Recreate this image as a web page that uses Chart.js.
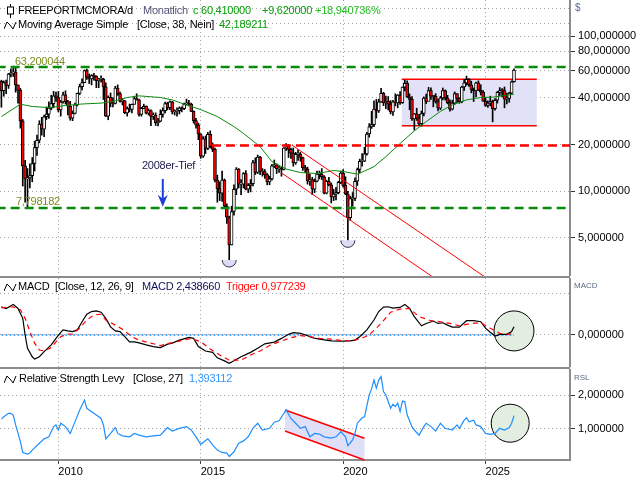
<!DOCTYPE html>
<html>
<head>
<meta charset="utf-8">
<script src="https://cdn.jsdelivr.net/npm/chart.js@4.4.1/dist/chart.umd.min.js"></script>
<style>
body { margin: 0; background: #fff; width: 640px; height: 480px; overflow: hidden; position: relative;
       font-family: "Liberation Sans", Arial, sans-serif; font-size: 11px; }
canvas { position: absolute; left: 0; }
.t { position: absolute; white-space: nowrap; font-size: 11px; line-height: 13px; color: #000; z-index: 2; letter-spacing: -0.25px; }
.s { position: absolute; white-space: nowrap; font-size: 8px; line-height: 10px; color: #5a6a8a; z-index: 2; }
.sep { position: absolute; left: 0; width: 570px; height: 2px; background: #8c8c8c; z-index: 3; }
svg { position: absolute; z-index: 2; }
</style>
</head>
<body>
<canvas id="price" width="640" height="276" style="top:0"></canvas>
<canvas id="macd" width="640" height="89" style="top:278px"></canvas>
<canvas id="rsl" width="640" height="111" style="top:369px"></canvas>
<div class="sep" style="top:276px"></div>
<div class="sep" style="top:367px"></div>

<svg style="left:6px;top:4px" width="9" height="14"><line x1="4.5" y1="0" x2="4.5" y2="14" stroke="#000"/><rect x="1.5" y="3" width="6" height="7" fill="#fff" stroke="#000"/></svg>
<span class="t" style="left:18px;top:4px">FREEPORTMCMORA/d</span>
<span class="t" style="left:143px;top:4px;color:#55557a">Monatlich</span>
<span class="t" style="left:193px;top:4px;color:#00a000">c 60,410000</span>
<span class="t" style="left:262px;top:4px;color:#00a000">+9,620000</span>
<span class="t" style="left:315px;top:4px;color:#22c022">+18,940736%</span>

<svg style="left:4px;top:20px" width="13" height="10"><polyline points="0,9 3,2 6,5 9,9 12,2" fill="none" stroke="#000"/></svg>
<span class="t" style="left:18px;top:18px">Moving Average Simple</span>
<span class="t" style="left:137px;top:18px">[Close, 38, Nein]</span>
<span class="t" style="left:219px;top:18px;color:#00a000">42,189211</span>

<span class="t" style="left:15px;top:55px;color:#7b8a1e">63,200044</span>
<span class="t" style="left:16px;top:195px;color:#7b8a1e">7,798182</span>
<span class="t" style="left:142px;top:159px;color:#202050">2008er-Tief</span>

<svg style="left:4px;top:282px" width="13" height="10"><polyline points="0,9 3,2 6,5 9,9 12,2" fill="none" stroke="#000"/></svg>
<span class="t" style="left:18px;top:280px">MACD</span>
<span class="t" style="left:55px;top:280px">[Close, 12, 26, 9]</span>
<span class="t" style="left:142px;top:280px;color:#10105a">MACD 2,438660</span>
<span class="t" style="left:226px;top:280px;color:#ff1010">Trigger 0,977239</span>

<svg style="left:4px;top:374px" width="13" height="10"><polyline points="0,9 3,2 6,5 9,9 12,2" fill="none" stroke="#000"/></svg>
<span class="t" style="left:19px;top:372px">Relative Strength Levy</span>
<span class="t" style="left:133px;top:372px">[Close, 27]</span>
<span class="t" style="left:189px;top:372px;color:#3399ff">1,393112</span>

<span class="s" style="left:575px;top:3px;font-size:10px">$</span>
<span class="s" style="left:574px;top:281px">MACD</span>
<span class="s" style="left:574px;top:373px">RSL</span>

<script>
'use strict'

/*
 * Monthly candles, index 0 = Jan 2008 ... index 216 = Jan 2026
 */
const firstOpen = 51.2;
const closes = [
    44.5, 50.2, 48.1, 56.9, 57.9, 58.6, 48.4, 44.7, 28.4, 14.6, 12.0, 12.2,
    12.6, 15.1, 19.1, 21.3, 27.1, 25.1, 30.2, 31.4, 34.3, 36.7, 41.2, 40.1,
    33.4, 37.6, 41.8, 37.8, 35.4, 29.6, 31.8, 36.1, 42.7, 47.3, 50.1, 60.0,
    54.4, 52.9, 55.6, 55.0, 51.6, 52.9, 52.9, 47.1, 30.5, 40.3, 36.9, 36.8,
    46.2, 42.6, 38.0, 38.3, 32.0, 34.1, 33.7, 36.3, 39.6, 38.9, 31.3, 34.2,
    35.3, 31.9, 33.1, 30.4, 31.0, 27.6, 28.3, 31.3, 33.1, 36.8, 34.6, 37.7,
    32.4, 32.7, 33.1, 34.4, 34.1, 36.5, 37.2, 36.4, 32.7, 28.5, 26.8, 23.4,
    16.8, 21.8, 18.9, 23.3, 19.4, 18.6, 11.8, 10.4, 9.7, 11.8, 8.0, 6.8,
    4.5, 7.4, 10.3, 13.9, 11.1, 11.1, 13.0, 10.3, 10.9, 11.2, 15.3, 13.2,
    16.6, 13.4, 13.4, 12.8, 11.5, 12.0, 14.6, 14.8, 14.0, 14.0, 13.8, 19.0,
    19.5, 18.6, 17.6, 15.2, 17.3, 17.3, 16.5, 14.2, 13.9, 11.6, 11.9, 10.3,
    11.6, 12.9, 12.9, 12.4, 9.7, 11.6, 11.0, 9.2, 9.6, 9.8, 11.4, 13.1,
    10.9, 9.6, 6.75, 8.95, 9.0, 11.6, 13.8, 15.6, 15.6, 17.4, 23.4, 26.0,
    26.9, 33.9, 32.9, 37.7, 42.7, 37.1, 38.1, 36.4, 32.5, 37.7, 37.1, 41.7,
    37.2, 46.9, 49.7, 40.5, 39.1, 29.3, 31.6, 29.6, 27.3, 31.7, 39.9, 38.0,
    44.6, 41.0, 40.9, 37.9, 34.3, 40.0, 44.6, 39.9, 37.3, 33.8, 37.0, 42.6,
    39.7, 37.8, 47.0, 49.9, 52.7, 48.6, 45.4, 44.4, 49.9, 44.8, 43.5, 38.1,
    35.8, 37.0, 37.9, 34.0, 38.6, 43.4, 44.6, 44.5, 39.2, 39.6, 42.9, 50.79,
    60.41
];
const highs = [
    52.0, 51.5, 52.0, 57.5, 61.5, 63.6, 63.2, 48.5, 46.0, 29.0, 15.8, 14.0,
    15.0, 16.5, 21.0, 23.0, 28.5, 30.0, 31.0, 35.0, 37.7, 41.6, 44.0, 43.6,
    44.0, 38.5, 43.5, 44.4, 38.5, 38.0, 33.0, 37.0, 43.0, 49.0, 53.0, 60.5,
    61.4, 57.0, 56.5, 57.5, 55.5, 53.5, 55.5, 53.5, 50.0, 41.2, 43.0, 40.0,
    47.5, 48.5, 43.5, 39.5, 38.5, 35.0, 36.5, 36.5, 41.0, 42.5, 39.3, 34.8,
    36.4, 35.5, 34.0, 33.5, 32.0, 32.0, 29.5, 33.5, 34.5, 37.5, 37.5, 38.2,
    38.0, 33.5, 34.5, 35.0, 35.0, 37.0, 39.3, 38.5, 37.0, 33.0, 29.5, 27.5,
    23.5, 22.5, 22.7, 24.0, 24.5, 20.5, 19.0, 12.7, 11.5, 13.5, 12.0, 8.3,
    6.9, 8.0, 11.0, 14.2, 14.0, 11.9, 13.2, 13.6, 11.2, 11.9, 15.8, 16.4,
    17.1, 16.8, 14.0, 13.8, 13.0, 12.5, 14.9, 15.9, 15.0, 14.6, 14.3, 19.1,
    20.3, 20.0, 19.0, 19.0, 17.8, 18.5, 17.8, 16.6, 14.7, 14.3, 12.9, 12.3,
    12.0, 13.5, 13.5, 14.0, 12.6, 11.8, 12.3, 11.3, 10.3, 10.6, 11.6, 13.5,
    13.8, 12.4, 10.0, 9.3, 9.8, 12.2, 14.1, 16.1, 17.5, 19.2, 24.0, 27.3,
    32.8, 38.2, 39.1, 39.2, 46.1, 43.4, 41.0, 40.8, 38.4, 38.5, 42.5, 42.0,
    43.9, 47.0, 52.0, 51.5, 42.4, 40.8, 31.7, 34.3, 31.3, 32.9, 40.6, 42.3,
    46.7, 46.5, 41.3, 42.6, 39.4, 40.9, 46.3, 45.0, 41.5, 38.9, 38.6, 43.7,
    42.4, 40.1, 47.5, 52.6, 55.2, 53.3, 51.2, 46.3, 50.5, 51.5, 48.6, 44.5,
    40.4, 38.3, 41.0, 38.7, 39.5, 44.0, 46.6, 45.9, 47.0, 43.0, 43.5, 51.5,
    61.5
];
const lows = [
    34.8, 41.0, 42.5, 46.0, 54.5, 55.0, 43.5, 37.0, 25.5, 10.8, 8.5, 7.8,
    10.5, 11.5, 13.5, 17.0, 20.5, 23.0, 22.5, 29.0, 29.5, 33.5, 34.5, 38.0,
    32.5, 30.5, 37.0, 36.5, 31.0, 28.7, 28.5, 31.5, 35.5, 42.0, 45.0, 50.0,
    52.5, 49.5, 48.5, 52.0, 46.5, 46.5, 50.5, 39.0, 30.3, 28.9, 35.0, 35.0,
    36.5, 41.5, 37.5, 36.0, 31.6, 30.5, 32.5, 32.0, 36.5, 38.6, 30.5, 30.5,
    34.0, 31.5, 31.0, 26.5, 29.0, 26.5, 26.4, 28.0, 30.0, 32.0, 33.5, 33.5,
    31.5, 31.0, 30.5, 31.5, 32.5, 33.5, 36.0, 35.5, 32.6, 27.5, 25.5, 21.5,
    16.3, 16.5, 17.5, 18.5, 19.0, 18.0, 11.5, 8.5, 8.7, 8.6, 7.8, 6.2,
    3.6, 4.5, 7.0, 9.5, 10.5, 9.5, 10.5, 10.2, 9.8, 9.9, 10.8, 12.8,
    13.0, 12.8, 12.5, 12.1, 11.0, 11.0, 11.8, 14.2, 13.0, 13.2, 12.5, 13.7,
    18.3, 16.5, 16.3, 14.5, 14.9, 15.8, 15.6, 13.6, 13.2, 11.1, 10.9, 9.5,
    9.8, 11.5, 12.0, 11.9, 9.6, 9.6, 10.8, 8.4, 8.7, 8.8, 9.6, 11.2,
    10.6, 9.5, 4.82, 6.5, 8.0, 8.7, 10.9, 13.1, 14.5, 15.5, 17.1, 22.3,
    25.4, 26.1, 29.6, 32.2, 37.4, 35.6, 34.1, 33.4, 31.5, 30.8, 35.5, 34.5,
    36.3, 36.8, 44.3, 40.2, 33.5, 28.6, 24.8, 28.6, 26.6, 26.3, 30.6, 36.7,
    38.6, 39.1, 35.0, 37.0, 32.9, 33.6, 38.8, 38.7, 36.6, 32.8, 33.4, 36.3,
    37.4, 36.9, 37.2, 44.6, 48.2, 47.4, 43.1, 37.9, 40.6, 44.6, 41.7, 37.9,
    35.2, 34.7, 35.5, 28.0, 33.3, 37.0, 41.4, 40.5, 34.5, 36.5, 37.5, 42.5,
    50.5
];

// Moving Average Simple (38)
const maMonths = [0, 8, 13, 20, 27, 34, 42, 47, 53, 58, 67, 72, 78, 84, 91, 98, 102, 109, 114, 120,
    126, 133, 140, 144, 150, 154, 157, 162, 168, 174, 179, 185, 190, 196, 202, 207, 216];
const maValues = [30.3, 36.4, 35.2, 34.6, 35.7, 36.5, 37.0, 37.9, 40.2, 41.2, 40.2, 38.8, 36.0, 33.6, 30.3, 26.1, 23.6, 19.4, 15.5, 13.9,
    13.2, 13.0, 13.6, 13.4, 12.9, 13.7, 14.4, 16.7, 20.3, 24.5, 28.1, 32.7, 36.0, 38.8, 40.2, 40.4, 42.2];

// MACD (12, 26, 9)
const macdMonths = [0, 2, 5, 7, 9, 10, 11, 13, 14, 16, 18, 21, 23, 25, 26, 28, 30, 32, 34, 36, 38, 40, 42, 44, 46, 48, 50,
    52, 54, 56, 58, 61, 64, 67, 70, 72, 75, 79, 81, 83, 86, 89, 91, 94, 96, 98, 101, 105, 108, 111, 115, 118,
    121, 123, 126, 129, 131, 134, 139, 143, 147, 149, 151, 154, 157, 159, 161, 163, 165, 168, 170, 172, 174,
    177, 179, 182, 184, 186, 188, 190, 193, 196, 199, 202, 204, 206, 208, 210, 213, 215, 216];
const macdValues = [8.3, 7.8, 9.0, 7.8, 4.9, 0, -3.9, -6.4, -7.1, -6.4, -4.9, -2.9, -1.0, 0.8, 1.5, 1.2, 1.0, 1.5, 3.9, 6.1, 6.9, 7.1, 6.7, 4.9, 2.4, 1.2, 1.0,
    -0.5, -2.0, -2.0, -2.3, -2.9, -3.4, -3.7, -2.7, -2.4, -1.5, -0.7, -1.0, -3.4, -4.7, -5.1, -6.7, -7.6, -8.3, -7.6, -6.4, -5.1, -3.9, -2.6, -2.1, -1.0,
    0.2, 0.7, 0.5, -0.2, -0.8, -1.2, -1.7, -1.8, -1.7, -1.5, -0.5, 1.5, 4.4, 6.9, 8.2, 8.3, 7.9, 8.1, 9.0, 7.8, 5.4,
    2.7, 3.4, 4.1, 3.4, 3.6, 2.9, 2.3, 2.3, 4.2, 4.2, 3.9, 2.0, 0.8, -0.3, 0.2, 0.2, 1.0, 2.44];
const triggerMonths = [0, 5, 8, 10, 12, 14, 16, 18, 21, 23, 25, 28, 30, 33, 36, 39, 42, 44, 48, 51, 55, 58, 63, 67, 71, 75,
    80, 84, 88, 92, 96, 101, 105, 109, 113, 117, 122, 126, 130, 134, 139, 143, 147, 151, 155, 160, 164, 168,
    172, 176, 181, 185, 189, 193, 198, 202, 206, 210, 214, 216];
const triggerValues = [8.0, 8.3, 7.4, 4.9, 1.0, -2.4, -4.4, -4.7, -3.7, -2.0, -0.5, 0.3, 0.3, 2.0, 4.4, 5.9, 6.1, 4.4, 2.9, 1.7, -0.5, -1.5, -2.4, -3.1, -2.4, -1.8,
    -1.0, -2.0, -4.1, -5.9, -7.4, -7.4, -5.9, -4.7, -3.1, -2.0, -0.8, -0.2, -0.5, -1.0, -1.2, -1.6, -1.7, -1.2, 0, 3.4, 6.7, 7.6,
    7.8, 5.4, 4.2, 3.9, 3.4, 2.7, 3.4, 3.6, 2.0, 0.5, 0.2, 0.98];

// Relative Strength Levy (27)
const rslMonths = [0, 1, 3, 4, 5, 6, 8, 9, 11, 12, 13, 16, 18, 20, 22, 23, 24, 25, 27, 29, 31, 33, 35, 36, 38, 40, 42, 43, 44,
    46, 48, 49, 51, 54, 56, 58, 61, 64, 67, 69, 70, 72, 75, 78, 80, 82, 84, 87, 89, 91, 93, 95, 96, 98, 100, 102,
    104, 106, 108, 110, 113, 115, 117, 120, 122, 124, 126, 128, 130, 132, 134, 136, 139, 141, 143, 145, 146, 148,
    149, 150, 152, 153, 155, 156, 157, 158, 159, 160, 161, 162, 164, 165, 166, 167, 168, 169, 170, 171, 173, 174,
    176, 178, 179, 181, 183, 185, 187, 190, 192, 193, 195, 196, 197, 199, 200, 202, 204, 206, 208, 210, 212, 214,
    215, 216];
const rslValues = [1.29, 1.36, 1.46, 1.46, 1.41, 1.12, 0.63, 0.31, 0.26, 0.29, 0.38, 0.58, 0.71, 0.77, 1.07, 1.12, 0.97, 1.17, 1.07, 0.87, 1.21, 1.56, 1.85, 1.61, 1.51, 1.41, 1.31, 1.12, 0.71,
    0.87, 1.04, 0.87, 0.80, 0.77, 0.87, 0.82, 0.77, 0.80, 0.82, 0.97, 1.04, 0.94, 1.02, 1.07, 0.97, 0.77, 0.55, 0.71, 0.53, 0.38, 0.31, 0.29, 0.19, 0.33, 0.58, 0.65,
    0.77, 1.02, 1.17, 0.97, 1.02, 1.20, 1.24, 1.56, 1.31, 1.17, 1.02, 1.07, 0.77, 0.87, 0.85, 0.77, 0.73, 0.77, 0.92, 0.77, 0.51, 0.68,
    0.87, 1.17, 1.33, 1.36, 2.00, 2.18, 2.44, 2.20, 2.44, 2.54, 2.10, 2.00, 1.61, 1.73, 1.66, 1.76, 1.51, 1.82, 1.80, 1.41, 1.07, 0.97,
    0.82, 1.07, 1.17, 1.07, 0.94, 1.17, 1.02, 0.97, 1.12, 1.02, 1.26, 1.33, 1.21, 1.26, 1.12, 1.07, 0.87, 0.84, 0.87, 1.02, 0.97, 1.04,
    1.17, 1.393];

// axes
const yearTicks = [24, 84, 144, 204];
const yearLabels = ['2010', '2015', '2020', '2025'];
const priceGrid = [5, 10, 20, 40, 60, 80, 100, 120, 150];
const priceLabels = [5, 10, 20, 40, 60, 80, 100];
const macdGrid = [0, 12.3];
const macdLabels = [0];
const rslGrid = [1, 2];
const rslLabels = [1, 2];

// drawn marks, in data units (month index, value)
const highLine = 63.200044;
const lowLine = 7.798182;
const resistLine = [88.7, 19.7];
const channelUpper = [[122.5, 19.8], [205.9, 2.66]];
const channelLower = [[117.8, 13.2], [184.8, 2.6]];
const rangeBox = [168.7, 225.6, 26.4, 52.8];
const lowMarks = [96, 146];
const arrowMark = [68, 12.0, 7.95];
const macdCircle = [216, 1.2];
const rslChannel = [[119.5, 1.56], [153, 0.73], [153, 0.09], [119.5, 0.94]];
const rslCircle = [214.4, 1.17];

const F = '"Liberation Sans", Arial, sans-serif';
const xMin = -0.59, xMax = 239.6;

function fmt(v) {
    return v.toFixed(6).replace('.', ',');
}

function noPad(s) {
    s.paddingTop = 0;
    s.paddingBottom = 0;
    s.paddingLeft = 0;
    s.paddingRight = 0;
}

function xAxis(showLabels) {
    return {
        type: 'linear', min: xMin, max: xMax, offset: false,
        afterBuildTicks: s => { s.ticks = yearTicks.map(v => ({value: v})); },
        afterFit: s => { s.height = showLabels ? 20 : 0; noPad(s); },
        ticks: {
            display: showLabels, autoSkip: false, maxRotation: 0, align: 'start', padding: 1,
            color: '#000', font: {family: F, size: 11},
            callback: v => yearLabels[yearTicks.indexOf(v)]
        },
        grid: {color: '#a4a4a4', offset: false, drawTicks: showLabels, tickLength: 4, tickColor: '#444', tickBorderDash: []},
        border: {display: showLabels, color: '#8c8c8c', width: 2, dash: [1, 3]}
    };
}

function yAxis(type, min, max, grid, labeled) {
    return {
        type: type, position: 'right', min: min, max: max,
        afterBuildTicks: s => { s.ticks = grid.map(v => ({value: v})); },
        afterFit: s => { s.width = 70; noPad(s); },
        ticks: {
            autoSkip: false, padding: 3, color: '#000', font: {family: F, size: 11},
            callback: v => labeled.includes(v) ? fmt(v) : ''
        },
        grid: {
            color: '#a4a4a4', tickLength: 5, tickWidth: 1, tickBorderDash: [],
            tickColor: c => (c.tick && labeled.includes(c.tick.value)) ? '#333' : 'rgba(0,0,0,0)'
        },
        border: {display: true, color: '#8c8c8c', width: 2, dash: [1, 3]}
    };
}

function line(points, color, width, dash) {
    return {
        type: 'line', data: points.map(p => ({x: p[0], y: p[1]})),
        borderColor: color, borderWidth: width, borderDash: dash || [],
        pointRadius: 0, tension: 0, fill: false
    };
}

const base = {
    responsive: false, animation: false, devicePixelRatio: 1, events: [],
    layout: {padding: 0, autoPadding: false},
    plugins: {legend: {display: false}, tooltip: {enabled: false}}
};

/**
 * Price pane
 */

const opens = closes.map((c, i) => i === 0 ? firstOpen : closes[i - 1]);
const months = closes.map((c, i) => i);

const pricePlugin = {
    id: 'priceMarks',
    beforeDatasetsDraw(chart) {
        const {ctx, scales: {x, y}} = chart;
        const x1 = x.getPixelForValue(rangeBox[0]), x2 = x.getPixelForValue(rangeBox[1]);
        const yb = y.getPixelForValue(rangeBox[2]), yt = y.getPixelForValue(rangeBox[3]);
        ctx.save();
        ctx.fillStyle = '#e1e1f7';
        ctx.fillRect(x1, yt, x2 - x1, yb - yt);
        ctx.strokeStyle = '#ff0000';
        ctx.lineWidth = 1.5;
        ctx.beginPath();
        ctx.moveTo(x1, yt); ctx.lineTo(x2, yt);
        ctx.moveTo(x1, yb); ctx.lineTo(x2, yb);
        ctx.stroke();
        ctx.restore();
    },
    afterDatasetsDraw(chart) {
        const {ctx, scales: {x, y}} = chart;
        ctx.save();
        lowMarks.forEach(m => {
            const cx = x.getPixelForValue(m), cy = y.getPixelForValue(lows[m]);
            ctx.beginPath();
            ctx.arc(cx, cy, 7, 0, Math.PI);
            ctx.fillStyle = '#dcdcf4';
            ctx.fill();
            ctx.strokeStyle = '#30304a';
            ctx.lineWidth = 1;
            ctx.stroke();
        });
        const ax = x.getPixelForValue(arrowMark[0]);
        const top = y.getPixelForValue(arrowMark[1]), tip = y.getPixelForValue(arrowMark[2]);
        ctx.strokeStyle = '#1c3fd6';
        ctx.fillStyle = '#1c3fd6';
        ctx.lineWidth = 2;
        ctx.beginPath();
        ctx.moveTo(ax, top); ctx.lineTo(ax, tip - 7);
        ctx.stroke();
        ctx.beginPath();
        ctx.moveTo(ax, tip);
        ctx.lineTo(ax - 5, tip - 12);
        ctx.lineTo(ax, tip - 8);
        ctx.lineTo(ax + 5, tip - 12);
        ctx.closePath();
        ctx.fill();
        ctx.restore();
    }
};

new Chart(document.getElementById('price'), {
    type: 'bar',
    data: {
        datasets: [
            line([[-2, highLine], [242, highLine]], '#0a8a0a', 2.5, [9, 5]),
            line([[-2, lowLine], [242, lowLine]], '#0a8a0a', 2.5, [9, 5]),
            line([resistLine, [242, resistLine[1]]], '#ff0000', 2.5, [9, 5]),
            line(channelUpper, '#ff0000', 1),
            line(channelLower, '#ff0000', 1),
            line(maMonths.map((m, i) => [m, maValues[i]]), '#0a8a0a', 1),
            {
                type: 'bar',
                data: months.map(i => ({x: i, y: [opens[i], closes[i]]})),
                backgroundColor: months.map(i => closes[i] < opens[i] ? '#ff0000' : '#ffffff'),
                borderColor: '#000', borderWidth: 1, borderSkipped: false,
                barThickness: 3, grouped: false, minBarLength: 1
            },
            {
                type: 'bar',
                data: months.map(i => ({x: i, y: [lows[i], highs[i]]})),
                backgroundColor: '#000', barThickness: 1, grouped: false
            }
        ]
    },
    options: Object.assign({}, base, {
        scales: {x: xAxis(false), y: yAxis('logarithmic', 2.84, 171, priceGrid, priceLabels)}
    }),
    plugins: [pricePlugin]
});

/**
 * MACD pane
 */

const macdPlugin = {
    id: 'macdMarks',
    beforeDatasetsDraw(chart) {
        const {ctx, scales: {x, y}} = chart;
        ctx.save();
        ctx.beginPath();
        ctx.arc(x.getPixelForValue(macdCircle[0]), y.getPixelForValue(macdCircle[1]), 20, 0, Math.PI * 2);
        ctx.fillStyle = '#e2eedf';
        ctx.fill();
        ctx.strokeStyle = '#000';
        ctx.lineWidth = 1;
        ctx.stroke();
        ctx.restore();
    }
};

new Chart(document.getElementById('macd'), {
    type: 'line',
    data: {
        datasets: [
            line(triggerMonths.map((m, i) => [m, triggerValues[i]]), '#ff0000', 1.2, [5, 4]),
            line(macdMonths.map((m, i) => [m, macdValues[i]]), '#000000', 1.2),
            line([[0, 0], [216, 0]], '#1e90ff', 1.5, [2, 2])
        ]
    },
    options: Object.assign({}, base, {
        scales: {x: xAxis(false), y: yAxis('linear', -9.41, 16.76, macdGrid, macdLabels)}
    }),
    plugins: [macdPlugin]
});

/**
 * RSL pane
 */

const rslPlugin = {
    id: 'rslMarks',
    beforeDatasetsDraw(chart) {
        const {ctx, scales: {x, y}} = chart;
        const p = rslChannel.map(q => [x.getPixelForValue(q[0]), y.getPixelForValue(q[1])]);
        ctx.save();
        ctx.beginPath();
        ctx.moveTo(p[0][0], p[0][1]);
        p.slice(1).forEach(q => ctx.lineTo(q[0], q[1]));
        ctx.closePath();
        ctx.fillStyle = '#dfdff8';
        ctx.fill();
        ctx.strokeStyle = '#ff0000';
        ctx.lineWidth = 1.5;
        ctx.beginPath();
        ctx.moveTo(p[0][0], p[0][1]); ctx.lineTo(p[1][0], p[1][1]);
        ctx.moveTo(p[3][0], p[3][1]); ctx.lineTo(p[2][0], p[2][1]);
        ctx.stroke();
        ctx.beginPath();
        ctx.arc(x.getPixelForValue(rslCircle[0]), y.getPixelForValue(rslCircle[1]), 19, 0, Math.PI * 2);
        ctx.fillStyle = '#e2eedf';
        ctx.fill();
        ctx.strokeStyle = '#000';
        ctx.lineWidth = 1;
        ctx.stroke();
        ctx.restore();
    }
};

new Chart(document.getElementById('rsl'), {
    type: 'line',
    data: {
        datasets: [
            line(rslMonths.map((m, i) => [m, rslValues[i]]), '#1e8fff', 1.2)
        ]
    },
    options: Object.assign({}, base, {
        scales: {x: xAxis(true), y: yAxis('linear', 0.088, 2.765, rslGrid, rslLabels)}
    }),
    plugins: [rslPlugin]
});
</script>
</body>
</html>
